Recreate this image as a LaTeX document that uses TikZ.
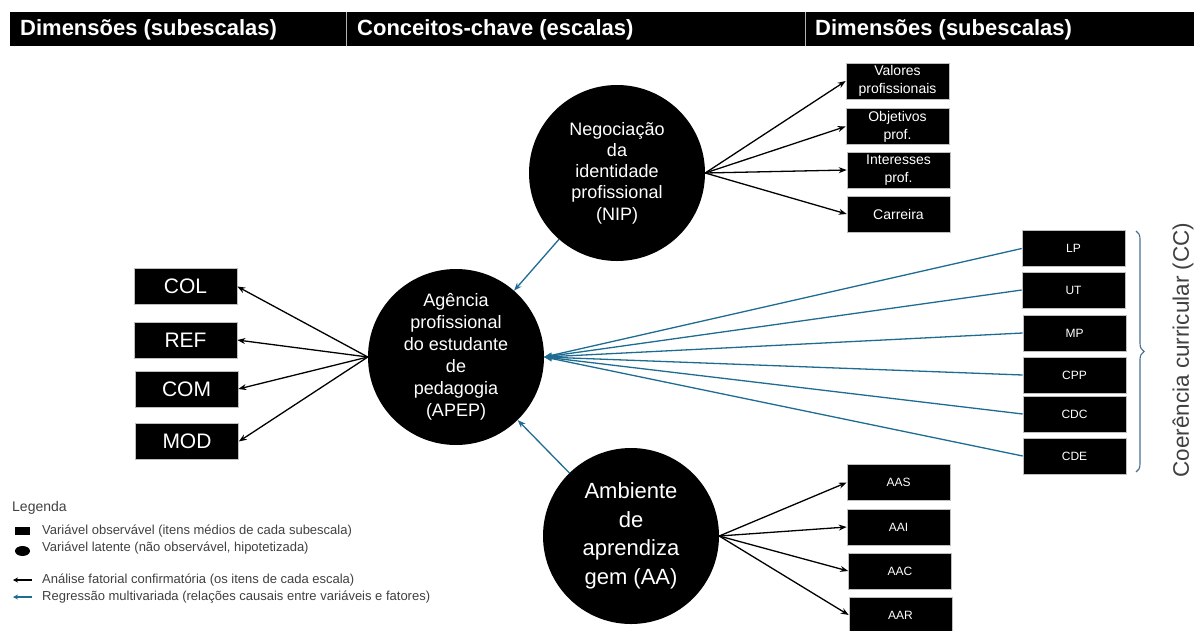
\documentclass[tikz,border=0pt]{standalone}
\usepackage{fontspec}
\setmainfont{Liberation Sans}
\usetikzlibrary{arrows.meta,decorations.pathreplacing}
\definecolor{regblue}{RGB}{30,108,145}
\definecolor{leggray}{RGB}{64,64,64}
\definecolor{bracecol}{RGB}{70,110,145}
\begin{document}
\begin{tikzpicture}[x=1pt,y=-1pt,
 obs/.style={draw=gray!50, fill=black, text=white, minimum width=103pt, minimum height=36pt, inner sep=1pt, align=center, line width=0.6pt, font=\fontsize{12}{15}\selectfont},
 obsmid/.style={obs, font=\fontsize{14}{18}\selectfont},
 obsbig/.style={obs, font=\fontsize{21}{25}\selectfont},
 lat/.style={circle, fill=black, text=white, minimum size=176pt, align=center, inner sep=0pt},
 cfa/.style={-{Stealth[length=8pt,width=6pt]}, line width=1.3pt, black},
 reg/.style={-{Stealth[length=8pt,width=6pt]}, line width=1.3pt, regblue},
 hdr/.style={anchor=west, text=white, font=\fontsize{22}{26}\selectfont\bfseries, inner sep=0pt},
 leg/.style={anchor=west, text=leggray, font=\fontsize{13}{15}\selectfont, inner sep=0pt}
]
\useasboundingbox (0,0) rectangle (1204,630);
% header
\fill[black] (10,12) rectangle (1194,46);
\draw[gray!60, line width=0.8pt] (346,12) -- (346,46);
\draw[gray!60, line width=0.8pt] (805,12) -- (805,46);
\node[hdr] (h1) at (20,29.5) {Dimensões (subescalas)};
\node[hdr] (h2) at (357,29.5) {Conceitos-chave (escalas)};
\node[hdr] (h3) at (815,29.5) {Dimensões (subescalas)};

% latent variables
\node[lat, font=\fontsize{18}{22}\selectfont] (APEP) at (456,357) {Agência\\profissional\\do estudante\\de\\pedagogia\\(APEP)};
\node[lat, font=\fontsize{18}{21.3}\selectfont] (NIP) at (617,173) {Negociação\\da\\identidade\\profissional\\(NIP)};
\node[lat, font=\fontsize{22}{28.5}\selectfont] (AA) at (631,536) {Ambiente\\de\\aprendiza\\gem (AA)};

% left boxes
\node[obsbig] (COL) at (185.5,286.5) {COL};
\node[obsbig] (REF) at (185.5,340) {REF};
\node[obsbig] (COM) at (186.5,389) {COM};
\node[obsbig] (MOD) at (187,441.5) {MOD};

% NIP boxes
\node[obsmid] (VAL) at (897.5,81) {Valores\\profissionais};
\node[obsmid] (OBJ) at (897.5,126.5) {Objetivos\\prof.};
\node[obsmid] (INT) at (898.5,170) {Interesses\\prof.};
\node[obsmid] (CAR) at (898.5,214) {Carreira};

% CC boxes
\node[obs] (LP) at (1073.5,248.5) {LP};
\node[obs] (UT) at (1073.5,290) {UT};
\node[obs] (MP) at (1074.5,333) {MP};
\node[obs] (CPP) at (1074.5,375) {CPP};
\node[obs] (CDC) at (1074.5,414) {CDC};
\node[obs] (CDE) at (1074.5,456) {CDE};

% AA boxes
\node[obs] (AAS) at (898.5,482.5) {AAS};
\node[obs] (AAI) at (898.5,527) {AAI};
\node[obs] (AAC) at (900,571) {AAC};
\node[obs] (AAR) at (900.5,615) {AAR};

% CFA arrows
\foreach \b in {COL,REF,COM,MOD} \draw[cfa] (APEP.west) -- (\b.east);
\foreach \b in {VAL,OBJ,INT,CAR} \draw[cfa] (NIP.east) -- (\b.west);
\foreach \b in {AAS,AAI,AAC,AAR} \draw[cfa] (AA.east) -- (\b.west);

% regression arrows
\foreach \b in {LP,UT,MP,CPP,CDC,CDE} \draw[reg] (\b.west) -- (APEP.east);
\draw[reg] (NIP) -- (APEP);
\draw[reg] (AA) -- (APEP);

% brace
\coordinate (bt) at (1136,231);
\coordinate (bb) at (1136,472);
\draw[bracecol, line width=1.1pt, decorate, decoration={brace, amplitude=8pt}] (bt) -- (bb);
\node[rotate=90, text=leggray, font=\fontsize{22.5}{26}\selectfont, inner sep=0pt] (CC) at (1183,350) {Coerência curricular (CC)};

% legend
\node[leg, font=\fontsize{14}{16}\selectfont] (legt) at (12,507.5) {Legenda};
\fill[black] (15,527) rectangle (30,535);
\node[leg] (l1) at (42,531) {Variável observável (itens médios de cada subescala)};
\fill[black] (22.5,551) ellipse (7.5pt and 5pt);
\node[leg] (l2) at (42,548) {Variável latente (não observável, hipotetizada)};
\coordinate (a1s) at (32,580);
\coordinate (a1e) at (13,580);
\draw[-{Stealth[length=5pt,width=5pt]}, line width=1.2pt, black] (a1s) -- (a1e);
\node[leg] (l3) at (42,580) {Análise fatorial confirmatória (os itens de cada escala)};
\coordinate (a2s) at (32,597);
\coordinate (a2e) at (13,597);
\draw[-{Stealth[length=5pt,width=5pt]}, line width=1.2pt, regblue] (a2s) -- (a2e);
\node[leg] (l4) at (42,597) {Regressão multivariada (relações causais entre variáveis e fatores)};
\end{tikzpicture}
\end{document}
